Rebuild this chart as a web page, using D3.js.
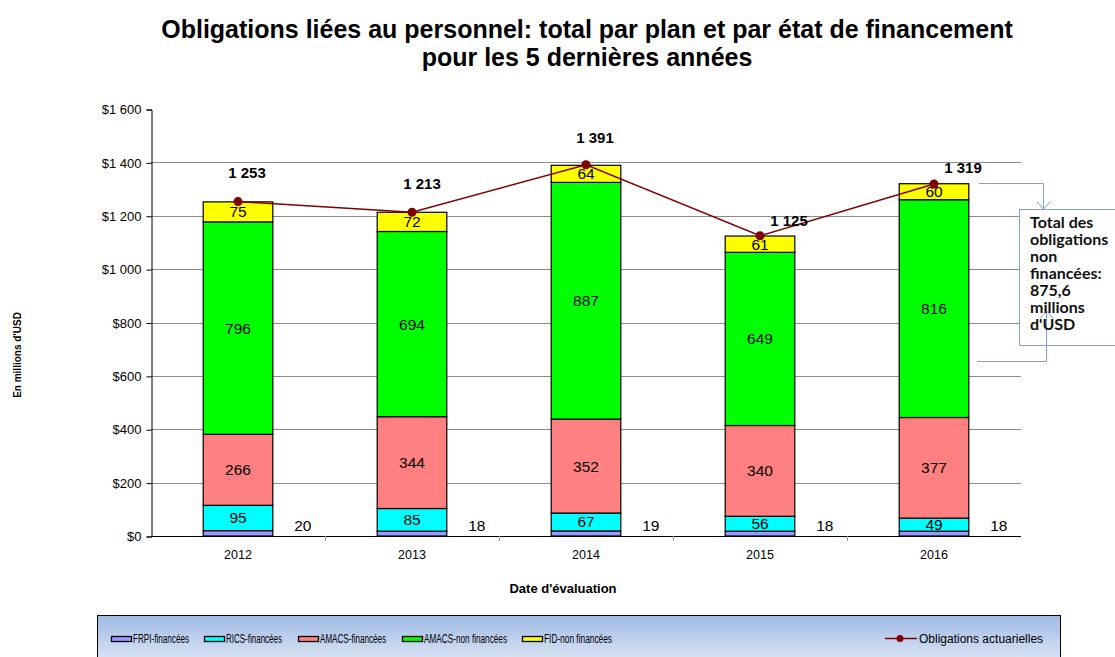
<!DOCTYPE html>
<html lang="fr">
<head>
  <meta charset="UTF-8">
  <title>Obligations liées au personnel</title>
  <style>
    body { margin: 0; background: #fff; }
    svg text { font-family: "Liberation Sans", Arial, sans-serif; }
  </style>
</head>
<body>
  <svg id="svg" width="1115" height="657"></svg>

  <script src="https://d3js.org/d3.v7.min.js"></script>
  <script>
    // data
    const years = ['2012', '2013', '2014', '2015', '2016']
    const frpi = [20, 18, 19, 18, 18]
    const rics = [95, 85, 67, 56, 49]
    const amacsFin = [266, 344, 352, 340, 377]
    const amacsNonFin = [796, 694, 887, 649, 816]
    const fidNonFin = [75, 72, 64, 61, 60]
    const totals = [1253, 1213, 1391, 1125, 1319]
    const yTicks = [0, 200, 400, 600, 800, 1000, 1200, 1400, 1600]

    const seriesNames = ['FRPI-financées', 'RICS-financées', 'AMACS-financées', 'AMACS-non financées', 'FID-non financées']
    const seriesValues = [frpi, rics, amacsFin, amacsNonFin, fidNonFin]
    const colors = ['#9999FF', '#00FFFF', '#FF8080', '#00FF00', '#FFFF00']
    const lineColor = '#800000'

    const margin = { top: 109, right: 1021, bottom: 536, left: 151 }

    const svg = d3.select('#svg')

    // title
    svg.append('text')
      .attr('x', 587).attr('y', 38)
      .attr('text-anchor', 'middle')
      .style('font-size', '25px').style('font-weight', 'bold')
      .text('Obligations liées au personnel: total par plan et par état de financement')
    svg.append('text')
      .attr('x', 587).attr('y', 66)
      .attr('text-anchor', 'middle')
      .style('font-size', '25px').style('font-weight', 'bold')
      .text('pour les 5 dernières années')

    // scales
    const xscale = d3.scaleBand()
      .domain(years)
      .range([margin.left, margin.right])
      .paddingInner(0.6)
      .paddingOuter(0.3)

    const yscale = d3.scaleLinear()
      .domain([0, 1600])
      .range([margin.bottom, margin.top])

    const fmtMoney = d => '$' + d3.format(',')(d).replace(',', ' ')
    const fmtTotal = d => d3.format(',')(d).replace(',', ' ')

    // gridlines (none at top of plot area)
    svg.append('g')
      .selectAll('line')
      .data(yTicks.filter(d => d > 0 && d < 1600))
      .enter()
      .append('line')
      .attr('x1', margin.left).attr('x2', margin.right)
      .attr('y1', d => Math.round(yscale(d)) + 0.5).attr('y2', d => Math.round(yscale(d)) + 0.5)
      .attr('stroke', '#8c8c8c')
      .attr('stroke-width', 1)

    // left axis
    const leftAxis = d3.axisLeft(yscale)
      .tickValues(yTicks)
      .tickFormat(fmtMoney)
      .tickSize(5)
    const yAxisG = svg.append('g')
      .attr('transform', `translate(${margin.left + 0.5}, 0.5)`)
      .call(leftAxis)
    yAxisG.select('.domain').attr('stroke', '#000')
    yAxisG.selectAll('.tick line').attr('stroke', '#000')
    yAxisG.selectAll('text')
      .attr('x', -10)
      .style('font-size', '13px').style('font-family', '"Liberation Sans", Arial, sans-serif')
      .attr('fill', '#000')

    // stacked bars
    const rows = years.map((y, i) => {
      const r = { year: y }
      seriesNames.forEach((s, j) => { r[s] = seriesValues[j][i] })
      return r
    })
    const stacked = d3.stack().keys(seriesNames)(rows)

    const barGroup = svg.append('g')
    stacked.forEach((layer, j) => {
      barGroup.selectAll('.bar-' + j)
        .data(layer)
        .enter()
        .append('rect')
        .attr('class', 'bar')
        .attr('x', d => xscale(d.data.year))
        .attr('y', d => yscale(d[1]))
        .attr('width', xscale.bandwidth())
        .attr('height', d => yscale(d[0]) - yscale(d[1]))
        .attr('fill', colors[j])
        .attr('stroke', '#000')
        .attr('stroke-width', 1.2)
    })

    // segment labels (FRPI sits outside to the right)
    stacked.forEach((layer, j) => {
      barGroup.selectAll('.lab-' + j)
        .data(layer)
        .enter()
        .append('text')
        .attr('x', d => j === 0 ? xscale(d.data.year) + xscale.bandwidth() + 30 : xscale(d.data.year) + xscale.bandwidth() / 2)
        .attr('y', d => j === 0 ? yscale(d[1]) : (yscale(d[0]) + yscale(d[1])) / 2 + 5.5)
        .attr('text-anchor', 'middle')
        .style('font-size', '15.5px')
        .attr('fill', '#000')
        .text(d => d[1] - d[0])
    })

    // bottom axis
    const bottomAxis = d3.axisBottom(xscale).tickSize(0).tickPadding(14)
    const xAxisG = svg.append('g')
      .attr('transform', `translate(0, ${margin.bottom + 0.5})`)
      .call(bottomAxis)
    xAxisG.select('.domain').attr('stroke', '#000').attr('d', `M${margin.left},0H${margin.right}`)
    xAxisG.selectAll('text')
      .style('font-size', '12.5px').style('font-family', '"Liberation Sans", Arial, sans-serif')
      .attr('fill', '#000')
    // tick marks between categories
    svg.append('g')
      .selectAll('line')
      .data(years.slice(1))
      .enter()
      .append('line')
      .attr('x1', d => Math.round(xscale(d) - xscale.step() * xscale.paddingInner() / 2) + 0.5)
      .attr('x2', d => Math.round(xscale(d) - xscale.step() * xscale.paddingInner() / 2) + 0.5)
      .attr('y1', margin.bottom).attr('y2', margin.bottom + 5)
      .attr('stroke', '#999')

    // actuarial line
    const cx = d => xscale(d) + xscale.bandwidth() / 2
    const line = d3.line()
      .x((d, i) => cx(years[i]))
      .y(d => yscale(d))
    svg.append('path')
      .datum(totals)
      .attr('d', line)
      .attr('fill', 'none')
      .attr('stroke', lineColor)
      .attr('stroke-width', 1.5)
    svg.append('g')
      .selectAll('circle')
      .data(totals)
      .enter()
      .append('circle')
      .attr('cx', (d, i) => cx(years[i]))
      .attr('cy', d => yscale(d))
      .attr('r', 4.5)
      .attr('fill', lineColor)

    // total labels (shifted where they would sit on the line)
    const labelShift = [[9, -23.5], [10, -23], [9, -22], [29, -10], [29, -11]]
    svg.append('g')
      .selectAll('text')
      .data(totals)
      .enter()
      .append('text')
      .attr('x', (d, i) => cx(years[i]) + labelShift[i][0])
      .attr('y', (d, i) => yscale(d) + labelShift[i][1])
      .attr('text-anchor', 'middle')
      .style('font-size', '15px').style('font-weight', 'bold')
      .text(fmtTotal)

    // axis titles
    svg.append('text')
      .attr('transform', 'translate(21, 355) rotate(-90)')
      .attr('text-anchor', 'middle')
      .style('font-size', '10px').style('font-weight', 'bold')
      .text("En millions d'USD")
    svg.append('text')
      .attr('x', 563).attr('y', 593)
      .attr('text-anchor', 'middle')
      .style('font-size', '13px').style('font-weight', 'bold')
      .text("Date d'évaluation")

    // callout
    const callColor = '#7ea0d4'
    const call = svg.append('g')
    call.append('rect')
      .attr('x', 1019.5).attr('y', 209.5)
      .attr('width', 110).attr('height', 136)
      .attr('fill', '#fff').attr('stroke', callColor).attr('stroke-width', 1)
    call.append('path')
      .attr('d', 'M979,183.5H1043.5V209')
      .attr('fill', 'none').attr('stroke', callColor)
    call.append('path')
      .attr('d', 'M1037,202L1043.5,209L1050,202')
      .attr('fill', 'none').attr('stroke', callColor)
    call.append('path')
      .attr('d', 'M977,361.5H1046.5V311')
      .attr('fill', 'none').attr('stroke', callColor)
    call.append('path')
      .attr('d', 'M1040,318L1046.5,311L1053,318')
      .attr('fill', 'none').attr('stroke', callColor)
    const callLines = ['Total des', 'obligations', 'non', 'financées:', '875,6', 'millions', "d'USD"]
    call.selectAll('text')
      .data(callLines)
      .enter()
      .append('text')
      .attr('x', 1030)
      .attr('y', (d, i) => 228 + i * 17)
      .style('font-family', 'Lato, "Open Sans", sans-serif')
      .style('font-size', '16px').style('font-weight', 'bold')
      .attr('fill', '#111')
      .text(d => d)

    // legend
    const defs = svg.append('defs')
    const grad = defs.append('linearGradient')
      .attr('id', 'legGrad').attr('x1', 0).attr('y1', 0).attr('x2', 0).attr('y2', 1)
    grad.append('stop').attr('offset', '0%').attr('stop-color', '#9fb9e4')
    grad.append('stop').attr('offset', '100%').attr('stop-color', '#e2eaf6')

    const legend = svg.append('g')
    legend.append('rect')
      .attr('x', 97.5).attr('y', 615.5)
      .attr('width', 963).attr('height', 50)
      .attr('fill', 'url(#legGrad)')
      .attr('stroke', '#000')

    const legX = [111, 204, 298, 402, 522]
    const legTextW = [56, 56, 66, 83, 68]
    seriesNames.forEach((s, j) => {
      legend.append('rect')
        .attr('x', legX[j] + 0.5).attr('y', 636.5)
        .attr('width', 20).attr('height', 5)
        .attr('fill', colors[j])
        .attr('stroke', '#000').attr('stroke-width', 1.3)
      legend.append('text')
        .attr('x', legX[j] + 22).attr('y', 643)
        .attr('textLength', legTextW[j])
        .attr('lengthAdjust', 'spacingAndGlyphs')
        .style('font-size', '12.5px')
        .text(s)
    })
    legend.append('line')
      .attr('x1', 885).attr('x2', 917)
      .attr('y1', 638.5).attr('y2', 638.5)
      .attr('stroke', lineColor).attr('stroke-width', 1.5)
    legend.append('circle')
      .attr('cx', 900).attr('cy', 638.5).attr('r', 3.5)
      .attr('fill', lineColor)
    legend.append('text')
      .attr('x', 919).attr('y', 643)
      .style('font-size', '12px')
      .text('Obligations actuarielles')
  </script>
</body>
</html>
